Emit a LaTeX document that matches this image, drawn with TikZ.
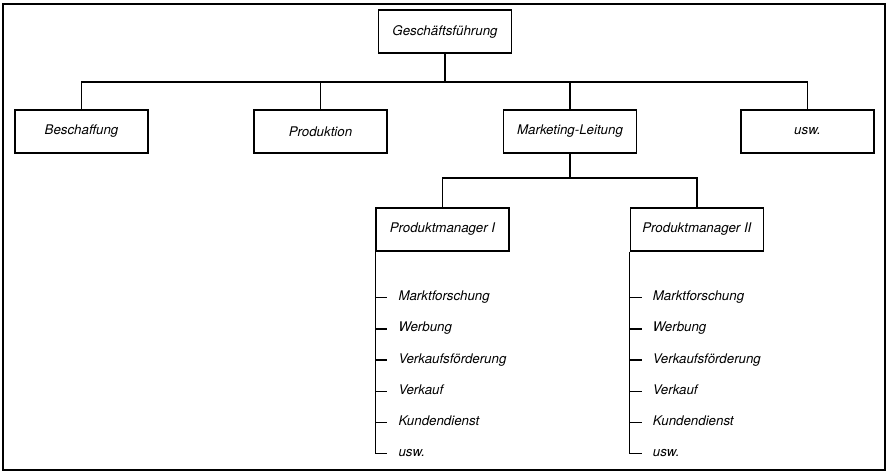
\documentclass[tikz,border=0pt]{standalone}
\usepackage{fontspec}
\setmainfont{TeX Gyre Heros}
\usetikzlibrary{positioning}

\begin{document}
\begin{tikzpicture}[
    x=1pt, y=-1pt,
    box/.style={rectangle, draw, line width=1.4pt, minimum width=133pt, minimum height=43pt, inner sep=0pt, font=\itshape\fontsize{13.3}{16}\selectfont},
    task/.style={anchor=west, inner xsep=11pt, inner ysep=0pt, text height=6pt, text depth=0pt, font=\itshape\fontsize{13.3}{16}\selectfont},
    link/.style={line width=1.4pt}
]
\useasboundingbox (0,0) rectangle (888,473);

% Frame
\draw[line width=1.5pt] (3,4) rectangle (885,470);

% Top
\node[box] (gf) at (445,31.5) {Geschäftsführung};

% First level
\node[box] (besch) at (81.5,131.5) {Beschaffung};
\node[box] (prod) at (320.5,131.5) {Produktion};
\node[box] (mkt) at (570,131.5) {Marketing-Leitung};
\node[box] (usw) at (807.5,131.5) {usw.};

% Product managers
\node[box] (pm1) at (442.5,229.5) {Produktmanager I};
\node[box, right=120pt of pm1] (pm2) {Produktmanager II};

% Tasks
\foreach \name [count=\i from 0] in {Marktforschung, Werbung, Verkaufsförderung, Verkauf, Kundendienst, usw.}
  \path (pm1.south west) ++(12,{46+31.2*\i}) node[task] (m1-\i) {\name};
\foreach \name [count=\i from 0] in {Marktforschung, Werbung, Verkaufsförderung, Verkauf, Kundendienst, usw.}
  \path (pm2.south west) ++(12,{46+31.2*\i}) node[task] (m2-\i) {\name};

% Lines
\coordinate (bus1) at (445,82);
\draw[link] (gf.south) -- (bus1);
\draw[link] (besch.north) |- (bus1) -| (usw.north);
\draw[link] (prod.north) -- (prod.north |- bus1);
\draw[link] (mkt.north) -- (mkt.north |- bus1);
\draw[link] (mkt.south) -- ++(0,24.5) coordinate (bus2);
\draw[link] (pm1.north) |- (bus2) -| (pm2.north);

\draw[link] (pm1.south west) |- (m1-5.west);
\draw[link] (pm2.south west) |- (m2-5.west);
\foreach \i in {0,...,4} {
  \draw[link] (pm1.south west |- m1-\i.west) -- (m1-\i.west);
  \draw[link] (pm2.south west |- m2-\i.west) -- (m2-\i.west);
}

\end{tikzpicture}
\end{document}
